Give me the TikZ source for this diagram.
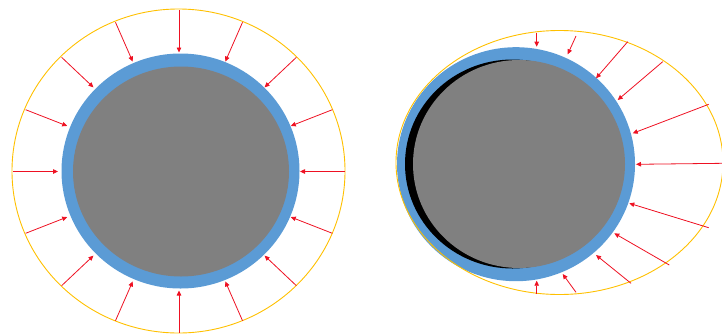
\documentclass[tikz,border=0pt]{standalone}
\usetikzlibrary{arrows.meta}
\definecolor{ringblue}{HTML}{5B9BD5}
\definecolor{coregray}{HTML}{808080}
\definecolor{envyellow}{HTML}{FFC000}
\definecolor{arrowred}{HTML}{EE1122}
\begin{document}
\begin{tikzpicture}[x=1pt,y=-1pt,
  envelope/.style={draw=envyellow,line width=0.9pt},
  load/.style={draw=arrowred,line width=0.8pt,-{Triangle[length=5pt,width=4.5pt]}}]
\useasboundingbox (0,0) rectangle (722,335);
% ---------- left figure ----------
\fill[ringblue] (180.5,171) ellipse[x radius=119, y radius=117.5];
\fill[coregray] (181,171.5) ellipse[x radius=108, y radius=105];
\draw[envelope] (178.5,171) ellipse[x radius=166.5, y radius=162];
\foreach \a in {0,22.5,...,337.5}
  \draw[load,shift={(179,171.5)}] (\a:166 and 161.5) -- (\a:121 and 119);
% ---------- right figure ----------
\fill[ringblue] (516,164.2) ellipse[x radius=119, y radius=117];
\fill[black] (512.5,164) ellipse[x radius=107.5, y radius=104.5];
\fill[coregray] (519,164) ellipse[x radius=106, y radius=104];
\draw[envelope] (559.5,162.5) ellipse[x radius=163.5, y radius=132];
\foreach \sx/\sy/\ex/\ey in {
  536.7/32.5/536.7/46.7,
  576/36/567.7/54.3,
  627.7/41.7/596/78.3,
  662.7/61.7/617.7/100,
  708.7/104.3/632.7/133.3,
  723/163.3/636/164.3,
  708.7/227.7/629.3/203.3,
  669.3/265/614.3/233.3,
  631/283.3/596/255,
  576/292.3/562.7/274,
  536.7/293.5/536.7/280.7}
  \draw[load] (\sx,\sy) -- (\ex,\ey);
\end{tikzpicture}
\end{document}
